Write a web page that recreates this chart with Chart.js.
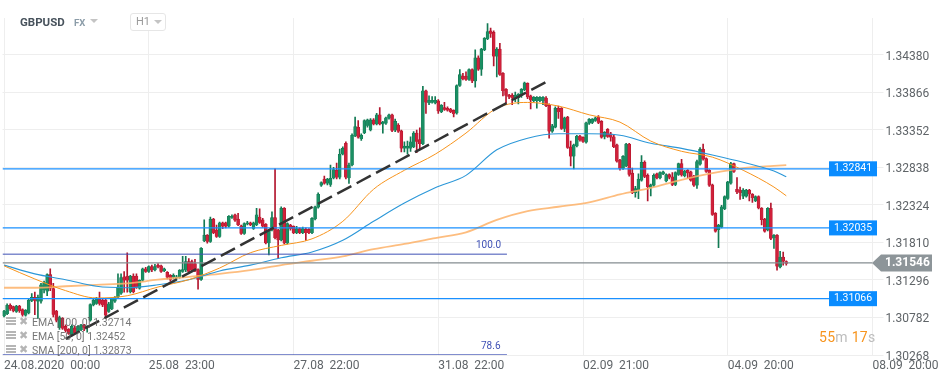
<!DOCTYPE html>
<html>
<head>
<meta charset="utf-8">
<script src="https://cdn.jsdelivr.net/npm/chart.js@4"></script>
<style>
  body { margin: 0; background: #fff; font-family: Roboto, sans-serif; }
  #wrap { position: relative; width: 945px; height: 381px; overflow: hidden; }
  canvas { position: absolute; left: 0; top: 0; }
  .txt { position: absolute; white-space: pre; }
  .tri { position: absolute; width: 0; height: 0; border-left: 4px solid transparent; border-right: 4px solid transparent; border-top: 4px solid #c4c4c4; }
  #h1box { position: absolute; left: 130px; top: 13px; width: 34px; height: 16px; border: 1px solid #e6e6e6; border-radius: 3px; background: #fff; }
  .leg { position: absolute; left: 32px; font-size: 10.5px; color: rgba(95,95,95,.85); white-space: pre; }
  .ico { position: absolute; left: 6px; width: 10px; height: 2px; background: #b5b5b5; box-shadow: 0 3px 0 #b5b5b5, 0 6px 0 #b5b5b5; }
  .xx { position: absolute; left: 19px; font-size: 11px; color: #b5b5b5; }
</style>
</head>
<body>
<div id="wrap">
  <canvas id="chart" width="945" height="381"></canvas>
  <div class="txt" style="left:20px;top:15px;font-size:11.5px;font-weight:700;color:#47525c">GBPUSD</div>
  <div class="txt" style="left:74px;top:17px;font-size:9.5px;font-weight:700;color:#8b9ca8">FX</div>
  <div class="tri" style="left:90px;top:19px"></div>
  <div id="h1box"></div>
  <div class="txt" style="left:136px;top:15px;font-size:11px;color:#9a9a9a">H1</div>
  <div class="tri" style="left:154px;top:20px"></div>
  <div class="txt" style="left:476px;top:239px;font-size:10px;color:#3f51b5">100.0</div>
  <div class="txt" style="left:481px;top:340px;font-size:10px;color:#3f51b5">78.6</div>
  <div class="ico" style="top:317px"></div><div class="xx" style="top:315px">✖</div>
  <div class="leg" style="top:316px">EMA [100, 0] 1.32714</div>
  <div class="ico" style="top:331px"></div><div class="xx" style="top:329px">✖</div>
  <div class="leg" style="top:330px">EMA [50, 0] 1.32452</div>
  <div class="ico" style="top:345px"></div><div class="xx" style="top:343px">✖</div>
  <div class="leg" style="top:344px">SMA [200, 0] 1.32873</div>
  <div class="txt" style="left:819px;top:329px;font-size:14px;letter-spacing:.3px;color:#bdbdbd"><span style="color:#f7941d">55</span>m <span style="color:#f7941d">17</span>s</div>
</div>
<script>
// all candle values are points above 1.3000 (83 = 1.3083), one per hour
const opens = [
  80,83,95,93,86,94,89,81,84,101,106,100,100,116,114,137,118,87,64,77,
  66,62,54,64,58,61,68,64,74,95,97,103,102,102,86,90,100,106,111,134,
  135,113,135,135,118,129,145,141,
  148,143,150,149,142,140,136,133,132,133,141,143,155,155,152,144,130,183,191,182,
  213,198,189,208,208,203,215,219,213,204,193,206,208,200,205,216,212,206,180,198,
  215,198,184,228,180,205,203,194,200,194,199,199,194,213,229,
  259,268,262,260,269,280,270,302,317,269,287,327,339,323,331,341,335,349,343,356,
  343,344,351,356,335,342,334,310,310,310,312,331,322,316,389,372,373,372,375,360,
  366,365,364,362,358,396,409,409,404,418,402,434,418,445,460,
  471,469,436,446,413,391,383,383,379,379,382,390,399,382,375,375,375,375,379,369,
  333,339,365,365,337,353,312,299,313,327,325,318,344,345,348,353,347,326,336,330,
  326,315,294,282,286,316,276,249,253,266,291,273,256,259,275,269,275,265,274,271,
  260,274,289,272,280,278,272,259,288,309,296,280,260,221,198,202,227,241,262,289,
  254,253,244,244,253,247,238,244,228,213,198,228,187,191,147,161,155
];
const highs = [
  88,97,97,94,95,95,90,89,103,111,113,109,125,128,138,145,125,88,80,78,
  68,63,68,66,67,69,69,67,97,103,106,113,104,104,99,105,107,138,138,141,
  167,136,138,138,130,146,147,149,
  150,151,152,150,146,141,137,138,136,144,162,162,159,157,158,145,174,212,192,216,
  214,205,209,209,209,218,219,220,221,205,208,210,209,209,228,227,214,207,199,223,
  282,199,230,229,208,206,204,203,201,202,201,200,215,231,249,
  264,272,269,287,284,290,309,312,319,290,330,353,348,330,349,350,351,351,358,366,
  347,353,357,357,350,344,335,319,320,326,333,335,338,395,390,382,381,381,377,370,
  373,367,365,363,397,418,413,415,419,419,445,437,447,462,481,
  475,471,448,454,414,392,384,385,387,385,392,401,400,383,381,381,381,381,381,371,
  343,367,368,366,353,354,320,316,328,328,326,346,351,351,353,355,348,333,337,332,
  328,316,295,300,317,317,283,258,275,300,293,275,261,275,276,278,279,275,275,277,
  278,290,295,280,281,279,273,294,311,316,297,281,261,222,206,232,245,265,291,290,
  270,257,255,254,254,248,245,245,229,214,229,235,192,192,169,168,156
];
const lows = [
  79,82,88,86,85,85,80,80,83,100,82,77,98,112,108,115,79,72,62,62,
  58,55,53,56,57,60,60,58,73,94,96,95,93,77,85,89,99,105,110,113,
  113,112,112,118,117,128,140,140,
  141,142,146,140,141,131,128,131,130,132,140,141,139,142,141,117,129,182,180,181,
  193,188,188,200,201,202,214,210,204,192,192,205,204,199,204,207,202,179,164,197,
  186,159,183,179,179,198,193,193,193,193,184,193,193,212,228,
  258,261,260,258,268,268,268,301,268,262,286,326,324,321,330,339,334,342,342,342,
  331,343,350,333,333,332,305,305,302,306,311,304,309,315,358,370,372,371,358,359,
  362,361,359,353,357,395,404,403,403,400,394,417,410,444,459,
  462,423,408,410,382,372,378,370,374,371,380,389,378,364,374,365,374,370,367,324,
  332,338,351,336,333,310,286,282,312,320,318,317,343,344,347,344,324,323,325,320,
  311,291,280,281,285,272,248,243,241,265,270,238,245,258,268,268,274,264,268,259,
  259,273,272,271,269,265,258,255,287,294,277,258,218,195,174,201,226,240,261,277,
  248,240,241,243,238,236,237,227,205,195,197,185,173,143,146,150,150
];
const closes = [
  87,95,90,87,94,87,82,88,102,106,101,106,123,126,137,118,82,74,78,63,
  60,56,66,57,66,68,64,66,96,102,103,97,95,81,97,104,106,120,133,129,
  129,135,113,120,129,145,141,148,
  143,148,147,141,145,133,130,136,134,143,144,155,141,143,143,130,173,191,182,213,
  194,189,208,203,203,217,217,211,205,193,207,208,205,208,219,208,203,180,198,215,
  187,184,228,180,207,200,194,200,194,200,194,194,214,230,247,
  263,262,268,269,281,270,302,310,270,287,328,340,325,328,348,349,349,343,356,343,
  346,352,356,334,347,333,310,313,313,319,331,319,316,389,373,376,376,376,361,369,
  363,362,360,357,396,411,405,404,418,402,434,418,446,461,470,
  467,436,446,411,389,382,380,379,383,384,391,400,380,376,380,380,380,380,368,333,
  341,365,360,337,352,311,299,315,327,321,319,345,350,350,352,345,325,332,326,325,
  312,292,282,299,316,274,249,255,268,291,271,257,260,273,269,277,278,274,270,260,
  277,289,273,279,276,266,259,292,309,295,278,259,219,196,205,230,244,264,289,278,
  250,249,253,253,247,242,244,228,212,196,228,186,191,148,161,155,152
];

// moving averages, read every 10 candles
const maIndex = [0,10,20,30,40,50,60,70,80,90,100,110,120,130,140,150,160,170,180,190,200,210,220,230,240,250,254];
const ema50 = [1.3149,1.3131,1.3115,1.3105,1.3108,1.3120,1.3130,1.3146,1.3167,1.3177,1.3186,1.3210,1.3254,1.3280,1.3302,1.3331,1.3365,1.3373,1.3368,1.3356,1.3346,1.3320,1.3306,1.3298,1.3280,1.3257,1.3245];
const ema100 = [1.3150,1.3138,1.3130,1.3121,1.3119,1.3123,1.3130,1.3142,1.3150,1.3160,1.3168,1.3184,1.3210,1.3235,1.3256,1.3273,1.3308,1.3324,1.3330,1.3330,1.3328,1.3317,1.3310,1.3301,1.3291,1.3279,1.3271];
const sma200 = [1.3119,1.3119,1.3121,1.3123,1.3125,1.3130,1.3134,1.3138,1.3143,1.3150,1.3156,1.3162,1.3172,1.3179,1.3187,1.3195,1.3212,1.3224,1.3230,1.3236,1.3247,1.3256,1.3267,1.3276,1.3283,1.3286,1.3287];

// drawn objects
const trendIndex = [20, 176];
const trendPrice = [1.3049, 1.3401];
const levelPrice = [1.3282, 1.3201, 1.3104];
const levelLabels = ["1.32841", "1.32035", "1.31066"];
const currentPrice = 1.3153;
const currentLabel = "1.31546";
const fibPrice = [1.3165, 1.3027];

// axes
const yTicks = [1.34380,1.33866,1.33352,1.32838,1.32324,1.31810,1.31296,1.30782,1.30268];
const xTicks = [0,47,94,141,188,235,282];
const xLabels = ["24.08.2020  00:00","25.08  23:00","27.08  22:00","31.08  22:00","02.09  21:00","04.09  20:00","08.09  20:00"];

const toPrice = n => 1.3 + n / 10000;
const isUp = i => closes[i] >= opens[i];
const idx = opens.map((_, i) => i);

const priceTags = {
  id: "priceTags",
  afterDatasetsDraw(chart) {
    const { ctx, scales } = chart;
    ctx.save();
    ctx.textBaseline = "middle";
    levelPrice.forEach((p, i) => {
      const y = scales.y.getPixelForValue(p);
      ctx.fillStyle = "#0a8cff";
      ctx.fillRect(829, y - 7.5, 48, 15);
      ctx.fillStyle = "#fff";
      ctx.font = "10.5px Roboto";
      ctx.textAlign = "center";
      ctx.fillText(levelLabels[i], 853, y);
    });
    const y = scales.y.getPixelForValue(currentPrice);
    ctx.fillStyle = "#8d9599";
    ctx.beginPath();
    ctx.moveTo(872, y);
    ctx.lineTo(881, y - 8.5);
    ctx.lineTo(932, y - 8.5);
    ctx.lineTo(932, y + 8.5);
    ctx.lineTo(881, y + 8.5);
    ctx.closePath();
    ctx.fill();
    ctx.fillStyle = "#fff";
    ctx.font = "bold 12px Roboto";
    ctx.textAlign = "left";
    ctx.fillText(currentLabel, 885, y);
    ctx.restore();
  },
};

const hline = (price, from, to, color, width, order) => ({
  type: "line",
  data: [{ x: from, y: price }, { x: to, y: price }],
  borderColor: color,
  borderWidth: width,
  pointRadius: 0,
  order,
});

const maLine = (values, color, width, order) => ({
  type: "line",
  data: maIndex.map((x, i) => ({ x, y: values[i] })),
  borderColor: color,
  borderWidth: width,
  pointRadius: 0,
  cubicInterpolationMode: "monotone",
  order,
});

new Chart(document.getElementById("chart"), {
  type: "bar",
  data: {
    datasets: [
      {
        data: idx.map(i => ({ x: i, y: [toPrice(lows[i]), toPrice(highs[i])] })),
        backgroundColor: idx.map(i => (isUp(i) ? "#127a54" : "#b3162e")),
        barThickness: 1,
        grouped: false,
        order: 11,
      },
      {
        data: idx.map(i => ({
          x: i,
          y: [toPrice(Math.min(opens[i], closes[i])), toPrice(Math.max(opens[i], closes[i]))],
        })),
        backgroundColor: idx.map(i => (isUp(i) ? "#1a8f63" : "#d0203a")),
        borderColor: idx.map(i => (isUp(i) ? "#127a54" : "#b3162e")),
        borderWidth: 0.6,
        barThickness: 3,
        grouped: false,
        order: 10,
      },
      maLine(sma200, "rgba(253,178,105,0.85)", 1.8, 9),
      maLine(ema100, "#2b97d8", 1.1, 8),
      maLine(ema50, "#f7941d", 1, 7),
      hline(fibPrice[0], -0.5, 163.3, "#3f51b5", 1, 6),
      hline(fibPrice[1], -0.5, 163.3, "#3f51b5", 1, 6),
      hline(currentPrice, -0.5, 282, "#858d91", 1.2, 5),
      hline(levelPrice[0], -0.5, 268, "#1a90ff", 1.2, 4),
      hline(levelPrice[1], -0.5, 268, "#1a90ff", 1.2, 4),
      hline(levelPrice[2], -0.5, 268, "#1a90ff", 1.2, 4),
      {
        type: "line",
        data: trendIndex.map((x, i) => ({ x, y: trendPrice[i] })),
        borderColor: "#333",
        borderWidth: 2.5,
        borderDash: [16, 6],
        pointRadius: 0,
        order: 1,
      },
    ],
  },
  options: {
    responsive: false,
    animation: false,
    layout: { padding: { left: 2.5, top: 18, right: 0, bottom: 0 } },
    plugins: { legend: { display: false }, tooltip: { enabled: false } },
    scales: {
      x: {
        type: "linear",
        min: -0.5,
        max: 282,
        offset: false,
        afterBuildTicks: s => { s.ticks = xTicks.map(value => ({ value })); },
        afterFit: s => { s.height = 26; },
        ticks: {
          autoSkip: false,
          maxRotation: 0,
          align: "start",
          padding: 4,
          color: "#5f6468",
          font: { family: "Roboto", size: 12 },
          callback: (v, i) => xLabels[i],
        },
        grid: { color: "#eeeeee", offset: false, drawTicks: false },
        border: { display: false },
      },
      y: {
        position: "right",
        min: 1.30268,
        max: 1.34887,
        afterBuildTicks: s => { s.ticks = yTicks.map(value => ({ value })); },
        afterFit: s => { s.width = 72.5; },
        ticks: {
          padding: 2,
          labelOffset: 2,
          color: "#5f6468",
          font: { family: "Roboto", size: 12 },
          callback: v => v.toFixed(5),
        },
        grid: { color: "#eeeeee", tickLength: 11, tickColor: "#eeeeee" },
        border: { display: false },
      },
    },
  },
  plugins: [priceTags],
});
</script>
</body>
</html>
